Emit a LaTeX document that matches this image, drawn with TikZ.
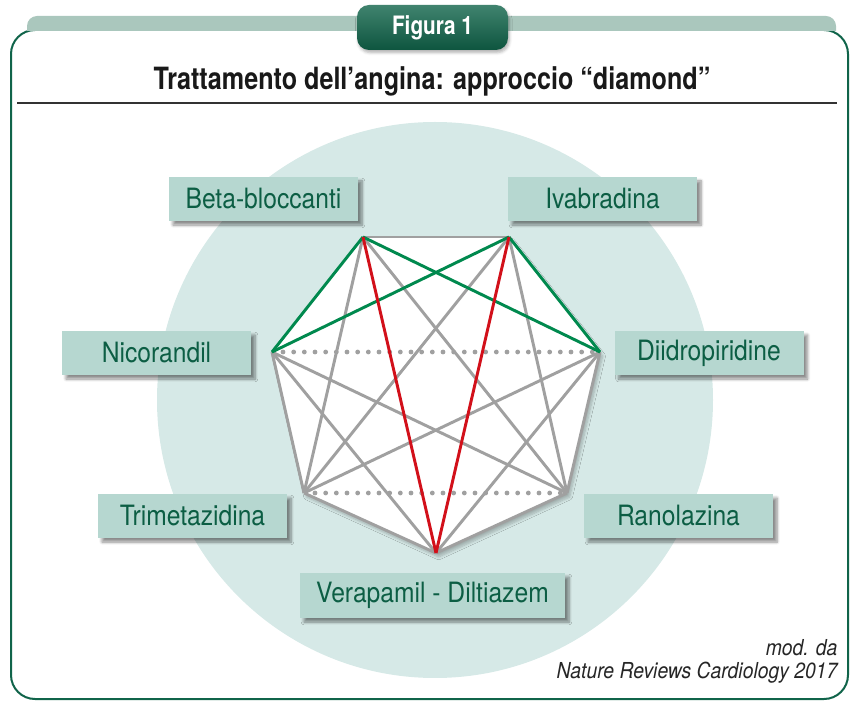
\documentclass[tikz,border=0pt]{standalone}
\usepackage{fontspec}
\setmainfont{TeX Gyre Heros}
\newfontfamily\titolofont{TeX Gyre Heros}[FakeStretch=0.82]
\newfontfamily\etichettafont{TeX Gyre Heros}[FakeStretch=0.88]
\newfontfamily\notafont{TeX Gyre Heros}[FakeStretch=0.88]
\usetikzlibrary{calc,shadows.blur}

\definecolor{verdescuro}{RGB}{16,100,74}
\definecolor{fascia}{RGB}{170,199,189}
\definecolor{cerchio}{RGB}{214,233,231}
\definecolor{riquadro}{RGB}{182,215,208}
\definecolor{testoverde}{RGB}{12,94,68}
\definecolor{grigiolinea}{RGB}{160,160,160}
\definecolor{verdelinea}{RGB}{0,137,78}
\definecolor{rossolinea}{RGB}{210,16,26}

\tikzset{every picture/.style={line width=0.75pt}}
\tikzset{
  farmaco/.style={fill=riquadro, text=testoverde, inner sep=0pt,
    font=\etichettafont\fontsize{21}{23}\selectfont,
    minimum width=141.75pt, minimum height=33pt,
    blur shadow={shadow xshift=3pt, shadow yshift=-3pt, shadow blur steps=6, shadow opacity=45}},
  lato/.style={draw=grigiolinea, line width=2.2pt},
  puntini/.style={draw=grigiolinea, line width=3.6pt, line cap=round, dash pattern=on 0pt off 8pt},
  verde/.style={draw=verdelinea, line width=2.2pt},
  rosso/.style={draw=rossolinea, line width=2.2pt}
}

\begin{document}
\begin{tikzpicture}[x=0.75pt,y=0.75pt,yscale=-1,xscale=1]
		\useasboundingbox (0,0) rectangle (851,702);
		
		%Frame
		\draw [verdescuro, line width=1.5pt, rounded corners=18pt] (11,30) rectangle (848,699) ;
		\fill [fascia] (27,31) -- (27,26) arc [start angle=180, end angle=270, radius=10] -- (826,16) arc [start angle=270, end angle=360, radius=10] -- (836,31) -- cycle ;
		\node (figura) [rounded corners=9pt, top color=verdescuro!80!white, bottom color=verdescuro!85!black, text=white, inner sep=0pt, minimum width=113.25pt, minimum height=33.75pt, font=\titolofont\bfseries\fontsize{19}{21}\selectfont, blur shadow={shadow xshift=1pt, shadow yshift=-2pt, shadow blur steps=4, shadow opacity=30}] at (432.5,27.5) {Figura 1};
		
		%Title
		\node (titolo) [font=\titolofont\bfseries\fontsize{23}{25}\selectfont, text=black!90] at (432,81) {Trattamento dell’angina: approccio “diamond”};
		\draw [black!80, line width=1.1pt] (17,103) -- (837,103) ;
		
		%Background circle
		\fill [cerchio] (435,400) circle [radius=278] ;
		
		%Vertices
		\coordinate (vb) at (363,237);
		\coordinate (vi) at (509,237);
		\coordinate (vn) at (272,352);
		\coordinate (vd) at (600,352);
		\coordinate (vt) at (304,493);
		\coordinate (vr) at (567,493);
		\coordinate (vv) at (436,553);
		
		\fill [white, blur shadow={shadow xshift=2pt, shadow yshift=-3pt, shadow blur steps=6, shadow opacity=25}] (vb) -- (vi) -- (vd) -- (vr) -- (vv) -- (vt) -- (vn) -- cycle ;
		
		\foreach \a/\b in {vb/vi, vb/vt, vb/vr, vi/vt, vi/vr, vn/vt, vn/vr, vn/vv, vd/vr, vd/vt, vd/vv, vt/vv, vr/vv}
			\draw [lato] (\a) -- (\b) ;
		\draw [puntini] ($(vn)+(11,0)$) -- (vd) ;
		\draw [puntini] ($(vt)+(11,0)$) -- (vr) ;
		\foreach \a/\b in {vb/vn, vb/vd, vi/vn, vi/vd}
			\draw [verde] (\a) -- (\b) ;
		\draw [rosso] (vb) -- (vv) ;
		\draw [rosso] (vi) -- (vv) ;
		
		%Labels
		\node (beta) [farmaco] at (263.5,199) {Beta-bloccanti};
		\node (ivab) [farmaco] at (602.5,199) {Ivabradina};
		\node (nicor) [farmaco] at (156.5,353) {Nicorandil};
		\node (diidro) [farmaco] at (709,353) {Diidropiridine};
		\node (trimet) [farmaco] at (192.5,516) {Trimetazidina};
		\node (ranol) [farmaco] at (678.5,516) {Ranolazina};
		\node (verap) [farmaco, minimum width=198.75pt, minimum height=33.75pt] at (432.5,595.5) {Verapamil - Diltiazem};
		
		\node (fonte) [anchor=south east, align=right, inner sep=0pt, text=black!85, font=\notafont\itshape\fontsize{16.5}{17.5}\selectfont] at (838,684) {mod. da\\Nature Reviews Cardiology 2017};
		
	\end{tikzpicture}
\end{document}
